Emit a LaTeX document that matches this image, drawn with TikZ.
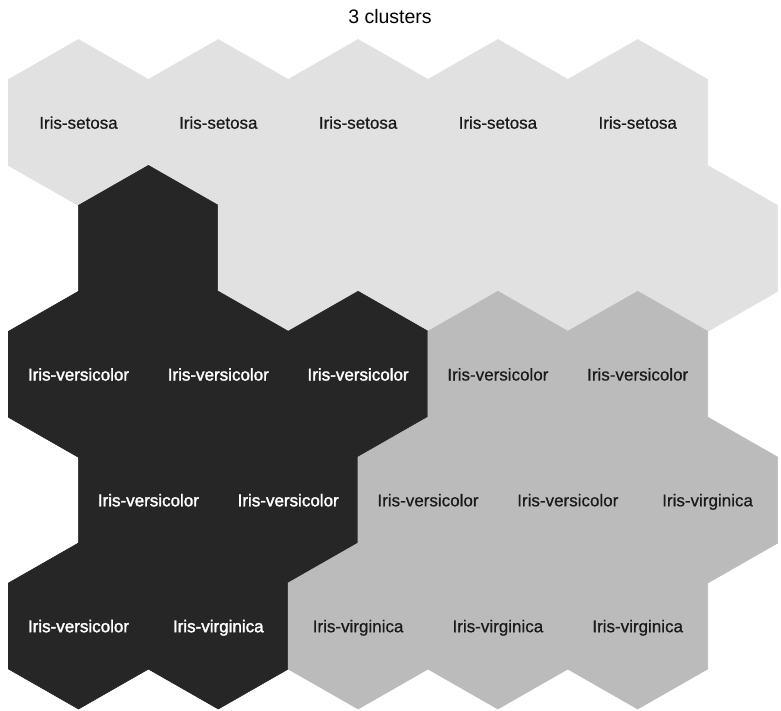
\documentclass[tikz,border=0pt]{standalone}
\usepackage{fontspec}
\setmainfont{Liberation Sans}
\newfontfamily\boldishfont[FakeBold=1.8]{Liberation Sans}
\newfontfamily\labelfont[FakeBold=0.6]{Liberation Sans}
\definecolor{cl}{HTML}{E1E1E1}
\definecolor{cm}{HTML}{BBBBBB}
\definecolor{cd}{HTML}{262626}
\definecolor{tx}{HTML}{1A1A1A}
\tikzset{
  hexcell/.style={fill=#1, draw=#1, line width=0.6pt, line join=miter},
  lab/.style={anchor=base, inner sep=0pt, font=\fontsize{17}{17}\selectfont\labelfont, text=tx},
  wlab/.style={anchor=base, inner sep=0pt, font=\fontsize{17}{17}\selectfont\boldishfont, text=white},
  ttl/.style={anchor=base, inner sep=0pt, font=\fontsize{19.5}{20}\selectfont, text=black},
}
\newcommand{\hexat}[3]{\path[hexcell=#3] (#1,#2-83) -- ++(70,40) -- ++(0,86) -- ++(-70,40) -- ++(-70,-40) -- ++(0,-86) -- cycle;}
\begin{document}
\begin{tikzpicture}[x=1pt,y=-1pt]
\useasboundingbox (0,0) rectangle (781,710);
\fill[white] (0,0) rectangle (781,710);
% row 0
\hexat{78.5}{122.5}{cl}\hexat{218.3}{122.5}{cl}\hexat{358.1}{122.5}{cl}\hexat{497.9}{122.5}{cl}\hexat{637.7}{122.5}{cl}
% row 1
\hexat{148.4}{248.4}{cd}\hexat{288.2}{248.4}{cl}\hexat{428}{248.4}{cl}\hexat{567.8}{248.4}{cl}\hexat{707.6}{248.4}{cl}
% row 2
\hexat{78.5}{374.3}{cd}\hexat{218.3}{374.3}{cd}\hexat{358.1}{374.3}{cd}\hexat{497.9}{374.3}{cm}\hexat{637.7}{374.3}{cm}
% row 3
\hexat{148.4}{500.1}{cd}\hexat{288.2}{500.1}{cd}\hexat{428}{500.1}{cm}\hexat{567.8}{500.1}{cm}\hexat{707.6}{500.1}{cm}
% row 4
\hexat{78.5}{626}{cd}\hexat{218.3}{626}{cd}\hexat{358.1}{626}{cm}\hexat{497.9}{626}{cm}\hexat{637.7}{626}{cm}
% title
\node[ttl] (title) at (390,23.3) {3 clusters};
% labels row 0
\node[lab] (a1) at (78.5,128.7) {Iris-setosa};
\node[lab] (a2) at (218.3,128.7) {Iris-setosa};
\node[lab] (a3) at (358.1,128.7) {Iris-setosa};
\node[lab] (a4) at (497.9,128.7) {Iris-setosa};
\node[lab] (a5) at (637.7,128.7) {Iris-setosa};
% labels row 2
\node[wlab] (c1) at (78.5,380.5) {Iris-versicolor};
\node[wlab] (c2) at (218.3,380.5) {Iris-versicolor};
\node[wlab] (c3) at (358.1,380.5) {Iris-versicolor};
\node[lab] (c4) at (497.9,380.5) {Iris-versicolor};
\node[lab] (c5) at (637.7,380.5) {Iris-versicolor};
% labels row 3
\node[wlab] (d1) at (148.4,506.3) {Iris-versicolor};
\node[wlab] (d2) at (288.2,506.3) {Iris-versicolor};
\node[lab] (d3) at (428,506.3) {Iris-versicolor};
\node[lab] (d4) at (567.8,506.3) {Iris-versicolor};
\node[lab] (d5) at (707.6,506.3) {Iris-virginica};
% labels row 4
\node[wlab] (e1) at (78.5,632.2) {Iris-versicolor};
\node[wlab] (e2) at (218.3,632.2) {Iris-virginica};
\node[lab] (e3) at (358.1,632.2) {Iris-virginica};
\node[lab] (e4) at (497.9,632.2) {Iris-virginica};
\node[lab] (e5) at (637.7,632.2) {Iris-virginica};
\end{tikzpicture}
\end{document}
